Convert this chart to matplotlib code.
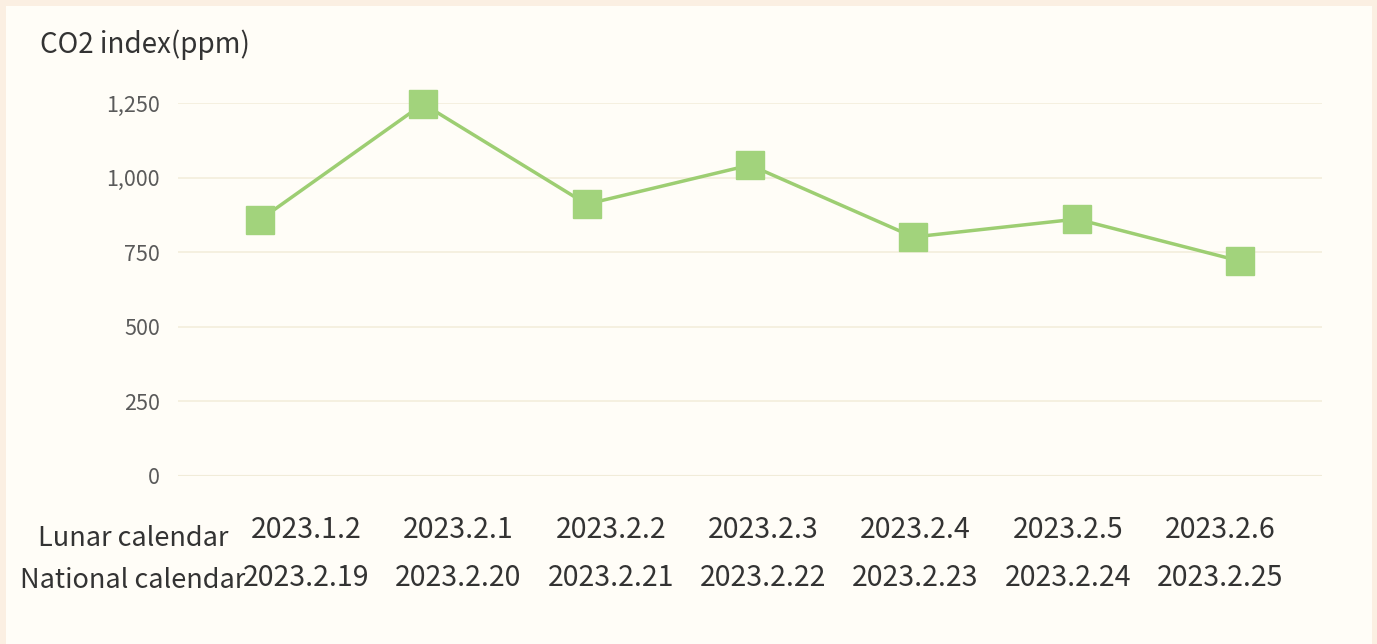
import matplotlib.pyplot as plt
from matplotlib.patches import Rectangle
from matplotlib.ticker import FuncFormatter

plt.rcParams['font.family'] = ['Noto Sans CJK SC', 'DejaVu Sans']

# Dados
lunar = ['2023.1.2', '2023.2.1', '2023.2.2', '2023.2.3', '2023.2.4', '2023.2.5', '2023.2.6']
national = ['2023.2.19', '2023.2.20', '2023.2.21', '2023.2.22', '2023.2.23', '2023.2.24', '2023.2.25']
co2 = [858, 1247, 911, 1042, 801, 861, 720]
yticks = [0, 250, 500, 750, 1000, 1250]

W, H = 1377, 644
fig = plt.figure(figsize=(W / 100, H / 100), dpi=100)
fig.patch.set_facecolor('#fbefe2')
# painel interno
fig.patches.append(Rectangle((6 / W, 0), (1372 - 6) / W, (H - 6) / H,
                             transform=fig.transFigure, facecolor='#fffdf7',
                             edgecolor='none', zorder=-5))

ax = fig.add_axes([178 / W, (H - 476) / H, (1322 - 178) / W, (476 - 103) / H])
ax.set_facecolor('none')
x = range(len(co2))
ax.plot(x, co2, color='#9dce72', lw=2.5, marker='s', markersize=19.5,
        markerfacecolor='#a2d37c', markeredgecolor='#a2d37c', clip_on=False, zorder=3)

ax.set_xlim(-0.5, len(co2) - 0.5)
ax.set_ylim(0, 1250)
ax.set_yticks(yticks)
ax.yaxis.set_major_formatter(FuncFormatter(lambda v, p: f'{int(v):,}'))
ax.set_xticks([])
ax.grid(axis='y', color='#f3eedc', lw=1.2)
ax.axhline(0, color='#e8e5cc', lw=1.5, zorder=1)
for s in ax.spines.values():
    s.set_visible(False)
ax.tick_params(axis='y', length=0, pad=13, labelsize=15.5, labelcolor='#5a5a5a')

fig.text(40 / W, 1 - 45 / H, 'CO2 index(ppm)', fontsize=20, color='#333333',
         ha='left', va='center')

# Tabela de datas abaixo do eixo
x0, step = 306, 152.4
fig.text(133 / W, 1 - 538 / H, 'Lunar calendar', fontsize=19.5, color='#333333',
         ha='center', va='center')
fig.text(133 / W, 1 - 580 / H, 'National calendar', fontsize=19.5, color='#333333',
         ha='center', va='center')
for i, (l, n) in enumerate(zip(lunar, national)):
    xp = (x0 + i * step) / W
    fig.text(xp, 1 - 530 / H, l, fontsize=20.5, color='#333333', ha='center', va='center')
    fig.text(xp, 1 - 578 / H, n, fontsize=20.5, color='#333333', ha='center', va='center')

fig.savefig('out.png', dpi=100, facecolor=fig.get_facecolor())
